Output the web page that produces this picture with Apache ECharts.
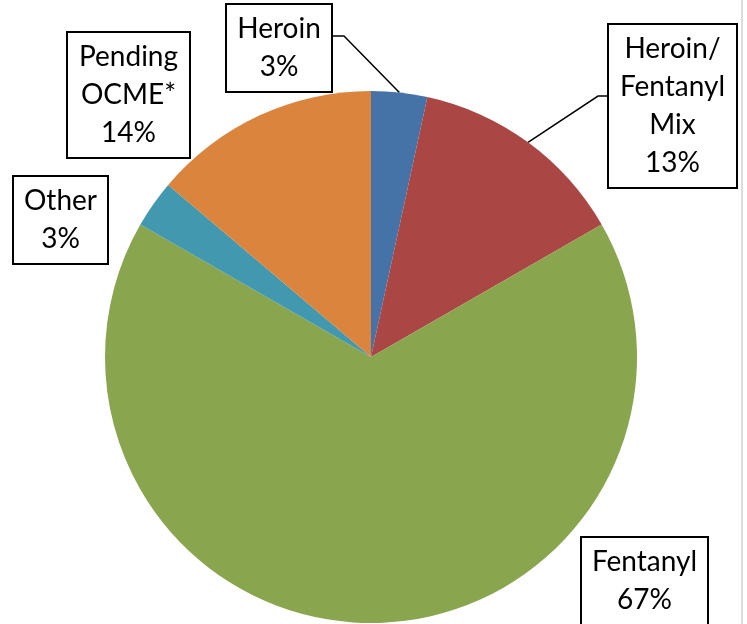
<!DOCTYPE html>
<html>
<head>
<meta charset="utf-8">
<script src="https://cdn.jsdelivr.net/npm/echarts@6/dist/echarts.min.js"></script>
<style>
  html, body { margin: 0; padding: 0; background: #fff; }
  #chart { width: 747px; height: 624px; }
</style>
</head>
<body>
<div id="chart"></div>
<script>
// slices, clockwise from 12 o'clock
const NAMES = ["Heroin", "Heroin/\nFentanyl\nMix", "Fentanyl", "Other", "Pending\nOCME*"];
const VALUES = [3.4, 13.3, 66.6, 2.9, 13.8];
const COLORS = ["#4572a7", "#aa4643", "#89a54e", "#4198af", "#db843d"];

// label boxes: left, top, width (outer), leader line end y (null = no leader)
const BOXES = [
  { left: 227, top: 5, w: 104, lineY: 36, side: "right" },
  { left: 609, top: 25, w: 127, lineY: 96, side: "left" },
  { left: 582, top: 538, w: 125, lineY: null },
  { left: 14, top: 177, w: 93, lineY: null },
  { left: 68, top: 33, w: 121, lineY: null },
];

const chart = echarts.init(document.getElementById("chart"), null, { renderer: "canvas" });

const data = VALUES.map((v, i) => ({
  name: NAMES[i],
  value: v,
  itemStyle: { color: COLORS[i] },
  label: { width: BOXES[i].w - 8 },
  labelLine: { show: BOXES[i].lineY != null },
}));

chart.setOption({
  backgroundColor: "#fff",
  animation: false,
  graphic: [
    {
      type: "rect",
      shape: { x: 741, y: 0, width: 2, height: 624 },
      style: { fill: "#dcdcdc" },
      silent: true,
    },
  ],
  series: [
    {
      type: "pie",
      center: [371, 357],
      radius: 266,
      startAngle: 90,
      clockwise: true,
      percentPrecision: 0,
      itemStyle: { borderWidth: 0 },
      label: {
        show: true,
        position: "outside",
        formatter: "{b}\n{d}%",
        fontFamily: "Lato",
        fontSize: 28,
        lineHeight: 38,
        color: "#000",
        align: "center",
        backgroundColor: "#fff",
        borderColor: "#000",
        borderWidth: 2,
        padding: [5, 4],
      },
      labelLine: {
        lineStyle: { color: "#000", width: 1.5 },
      },
      labelLayout: (p) => {
        const b = BOXES[p.dataIndex];
        const out = {
          x: b.left + b.w / 2,
          y: b.top,
          align: "center",
          verticalAlign: "top",
        };
        if (b.lineY != null && p.labelLinePoints) {
          const start = p.labelLinePoints[0];
          const edgeX = b.side === "right" ? b.left + b.w : b.left;
          const bendX = b.side === "right" ? edgeX + 13 : edgeX - 11;
          out.labelLinePoints = [start, [bendX, b.lineY], [edgeX, b.lineY]];
        }
        return out;
      },
      data: data,
    },
  ],
});
</script>
</body>
</html>
